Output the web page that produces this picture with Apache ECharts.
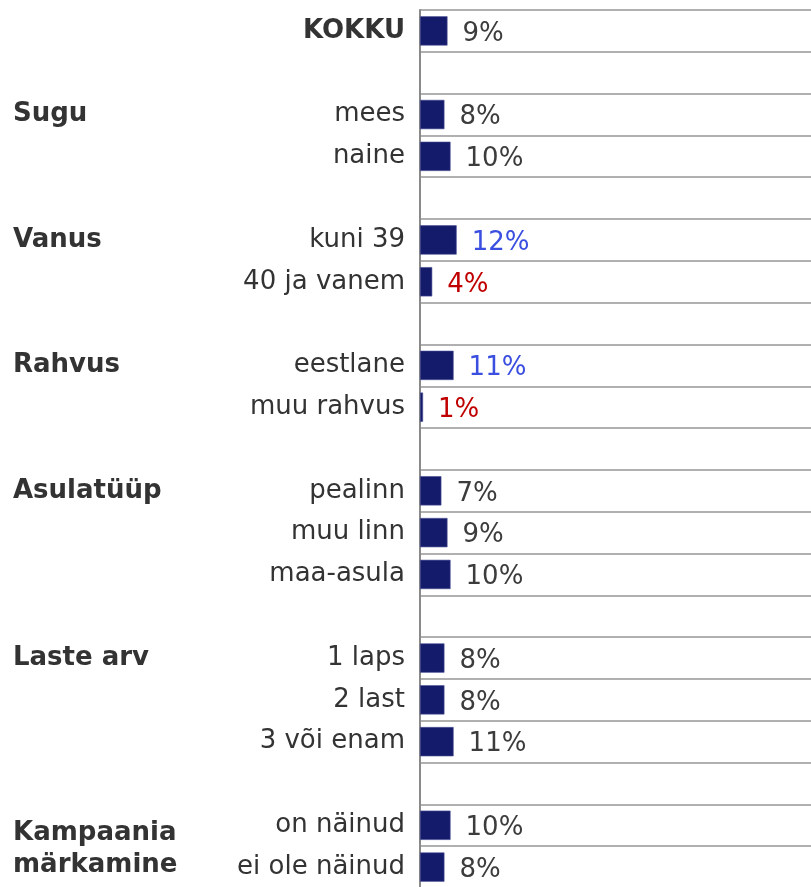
<!DOCTYPE html>
<html>
<head>
<meta charset="utf-8">
<script src="https://cdn.jsdelivr.net/npm/echarts@6/dist/echarts.min.js"></script>
<style>
  html, body { margin: 0; padding: 0; background: #fff; }
  #chart { width: 811px; height: 887px; }
</style>
</head>
<body>
<div id="chart"></div>
<script>
// Row labels (empty strings are spacer rows between groups)
const categories = ['KOKKU', '', 'mees', 'naine', '', 'kuni 39', '40 ja vanem', '',
  'eestlane', 'muu rahvus', '', 'pealinn', 'muu linn', 'maa-asula', '',
  '1 laps', '2 last', '3 või enam', '', 'on näinud', 'ei ole näinud'];

// Group headings, placed on the first row of each group
const groups = ['', '', 'Sugu', '', '', 'Vanus', '', '',
  'Rahvus', '', '', 'Asulatüüp', '', '', '',
  'Laste arv', '', '', '', 'Kampaania\nmärkamine', ''];

// Share (%) per row
const values = [9, null, 8, 10, null, 12, 4, null,
  11, 1, null, 7, 9, 10, null,
  8, 8, 11, null, 10, 8];

// Difference from total: 'up' = notably higher, 'down' = notably lower
const signif = ['', '', '', '', '', 'up', 'down', '',
  'up', 'down', '', '', '', '', '',
  '', '', '', '', '', ''];

const FONT = 'DejaVu Sans, Verdana, sans-serif';
const FS = 26;
const TEXT = '#333333';
const labelColor = { '': '#3c3c3c', up: '#3a4fe0', down: '#c00000' };

const chart = echarts.init(document.getElementById('chart'));

chart.setOption({
  animation: false,
  grid: {
    left: 420, right: 0, top: 10, height: 878,
    containLabel: false, outerBoundsMode: 'none'
  },
  xAxis: {
    type: 'value', min: 0, max: 128,
    show: false
  },
  yAxis: [
    {
      type: 'category',
      inverse: true,
      data: categories.map((c, i) => i === 0
        ? { value: c, textStyle: { fontWeight: 'bold' } }
        : c),
      axisLine: { show: true, lineStyle: { color: '#8a8a8a', width: 2 } },
      axisTick: { show: false },
      splitLine: { show: true, interval: 0, lineStyle: { color: '#969696', width: 1.5 } },
      axisLabel: {
        interval: 0, margin: 15,
        color: TEXT, fontFamily: FONT, fontSize: FS
      }
    },
    {
      type: 'category',
      inverse: true,
      position: 'left',
      data: groups,
      axisLine: { show: false },
      axisTick: { show: false },
      splitLine: { show: false },
      axisLabel: {
        interval: 0, margin: 407, align: 'left',
        color: TEXT, fontFamily: FONT, fontSize: FS, fontWeight: 'bold',
        lineHeight: 32,
        // two-line headings sit across their two rows: an empty first line pushes them down
        formatter: g => g.indexOf('\n') >= 0 ? '{pad|\u00a0}\n' + g : g,
        rich: { pad: { fontSize: 2, lineHeight: 48 } }
      }
    }
  ],
  series: [{
    type: 'bar',
    yAxisIndex: 0,
    barCategoryGap: '30%',
    itemStyle: { color: '#151b6b', borderColor: '#4b5196', borderWidth: 0.6 },
    data: values.map((v, i) => v === null ? null : {
      value: v,
      label: { color: labelColor[signif[i]] }
    }),
    label: {
      show: true,
      position: 'right',
      distance: 15,
      offset: [0, 3],
      fontFamily: FONT,
      fontSize: FS,
      formatter: p => p.value + '%'
    }
  }]
});
</script>
</body>
</html>
